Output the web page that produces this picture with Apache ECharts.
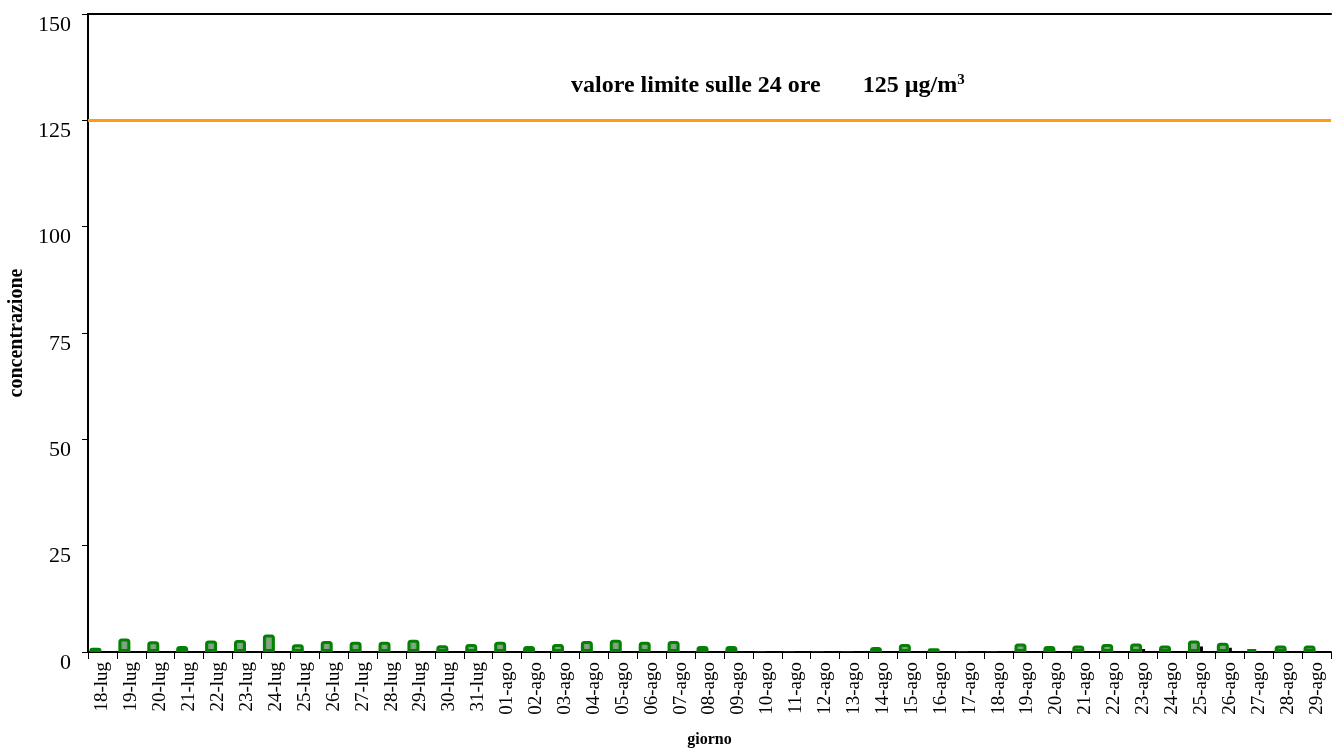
<!DOCTYPE html>
<html>
<head>
<meta charset="utf-8">
<script src="https://cdn.jsdelivr.net/npm/echarts@6/dist/echarts.min.js"></script>
<style>
html,body{margin:0;padding:0;background:#fff;}
#chart{width:1334px;height:751px;}
</style>
</head>
<body>
<div id="chart"></div>
<script>
const days = ['18-lug','19-lug','20-lug','21-lug','22-lug','23-lug','24-lug','25-lug','26-lug','27-lug','28-lug','29-lug','30-lug','31-lug',
  '01-ago','02-ago','03-ago','04-ago','05-ago','06-ago','07-ago','08-ago','09-ago','10-ago','11-ago','12-ago','13-ago','14-ago','15-ago',
  '16-ago','17-ago','18-ago','19-ago','20-ago','21-ago','22-ago','23-ago','24-ago','25-ago','26-ago','27-ago','28-ago','29-ago'];
const concentrazione = [1.0,3.2,2.5,1.4,2.7,2.8,4.1,1.8,2.6,2.4,2.4,2.9,1.6,1.9,
  2.4,1.4,1.9,2.6,2.9,2.4,2.6,1.4,1.4,0.2,0.2,0.2,0.2,1.2,1.9,
  0.9,0.2,0.2,2.0,1.4,1.5,1.9,2.0,1.5,2.7,2.2,0.7,1.5,1.5];
const secondario = [0,0,0,0,0,0,0,0,0,0,0,0,0,0,
  0,0,0,0,0,0,0,0,0,0,0,0,0,0,0,
  0,0,0,0,0,0,0,0.7,0,1.3,1.0,0,0,0];
const yTicks = [0,25,50,75,100,125,150];
const LIMIT = 125;

const chart = echarts.init(document.getElementById('chart'));
const FONT = '"Liberation Serif","Times New Roman",serif';

const greenData = concentrazione.map(v => v < 0.5
  ? {value: v, itemStyle: {borderWidth: 0, color: '#0b3d0b'}}
  : v);

chart.setOption({
  animation: false,
  backgroundColor: '#fff',
  grid: {left: 88, right: 3, top: 14, bottom: 99, containLabel: false, outerBoundsMode: 'none'},
  title: {
    text: '{t|valore limite sulle 24 ore       125 µg/m}{s|3}',
    left: 566, top: 68,
    textStyle: {
      rich: {
        t: {fontFamily: FONT, fontSize: 24, fontWeight: 'bold', color: '#000', verticalAlign: 'bottom'},
        s: {fontFamily: FONT, fontSize: 15, fontWeight: 'bold', color: '#000', verticalAlign: 'top', padding: [0,0,10,0]}
      }
    }
  },
  xAxis: [{
    type: 'category',
    data: days,
    name: 'giorno',
    nameLocation: 'middle',
    nameGap: 80,
    nameTextStyle: {fontFamily: FONT, fontSize: 16, fontWeight: 'bold', color: '#000'},
    axisLine: {lineStyle: {color: '#000', width: 2}},
    axisTick: {show: true, length: 7, lineStyle: {color: '#000', width: 1}},
    axisLabel: {rotate: 90, fontFamily: FONT, fontSize: 19, color: '#000', margin: 10, interval: 0},
    splitLine: {show: false}
  }, {
    type: 'category',
    data: days,
    position: 'top',
    axisLine: {lineStyle: {color: '#000', width: 2}},
    axisTick: {show: false},
    axisLabel: {show: false},
    splitLine: {show: false}
  }],
  yAxis: {
    type: 'value',
    min: 0, max: 150, interval: 25,
    name: 'concentrazione',
    nameLocation: 'middle',
    nameGap: 57,
    nameRotate: 90,
    nameTextStyle: {fontFamily: FONT, fontSize: 20, fontWeight: 'bold', color: '#000'},
    axisLine: {show: true, lineStyle: {color: '#000', width: 2}},
    axisTick: {show: true, length: 6, lineStyle: {color: '#000', width: 1}},
    axisLabel: {fontFamily: FONT, fontSize: 22, color: '#000', margin: 17, verticalAlign: 'top',
      formatter: v => yTicks.includes(v) ? String(v) : ''},
    splitLine: {show: false}
  },
  series: [{
    type: 'bar',
    data: greenData,
    barWidth: 12,
    barGap: 0,
    itemStyle: {
      color: new echarts.graphic.LinearGradient(0, 0, 1, 0, [
        {offset: 0, color: '#5f8f5f'},
        {offset: 0.5, color: '#86a886'},
        {offset: 1, color: '#5f8f5f'}
      ]),
      borderColor: '#048004',
      borderWidth: 3,
      borderRadius: [2,2,0,0]
    },
    markLine: {
      silent: true,
      symbol: 'none',
      label: {show: false},
      lineStyle: {color: '#FF9C0F', width: 3, type: 'solid'},
      data: [{yAxis: LIMIT}]
    },
    z: 3
  }, {
    type: 'bar',
    data: secondario,
    barWidth: 3,
    barGap: 0,
    itemStyle: {color: '#000'},
    z: 2
  }, {
    type: 'bar',
    data: secondario.map(() => 0),
    barWidth: 11,
    barGap: 0,
    itemStyle: {color: 'rgba(0,0,0,0)'}
  }]
});
</script>
</body>
</html>
